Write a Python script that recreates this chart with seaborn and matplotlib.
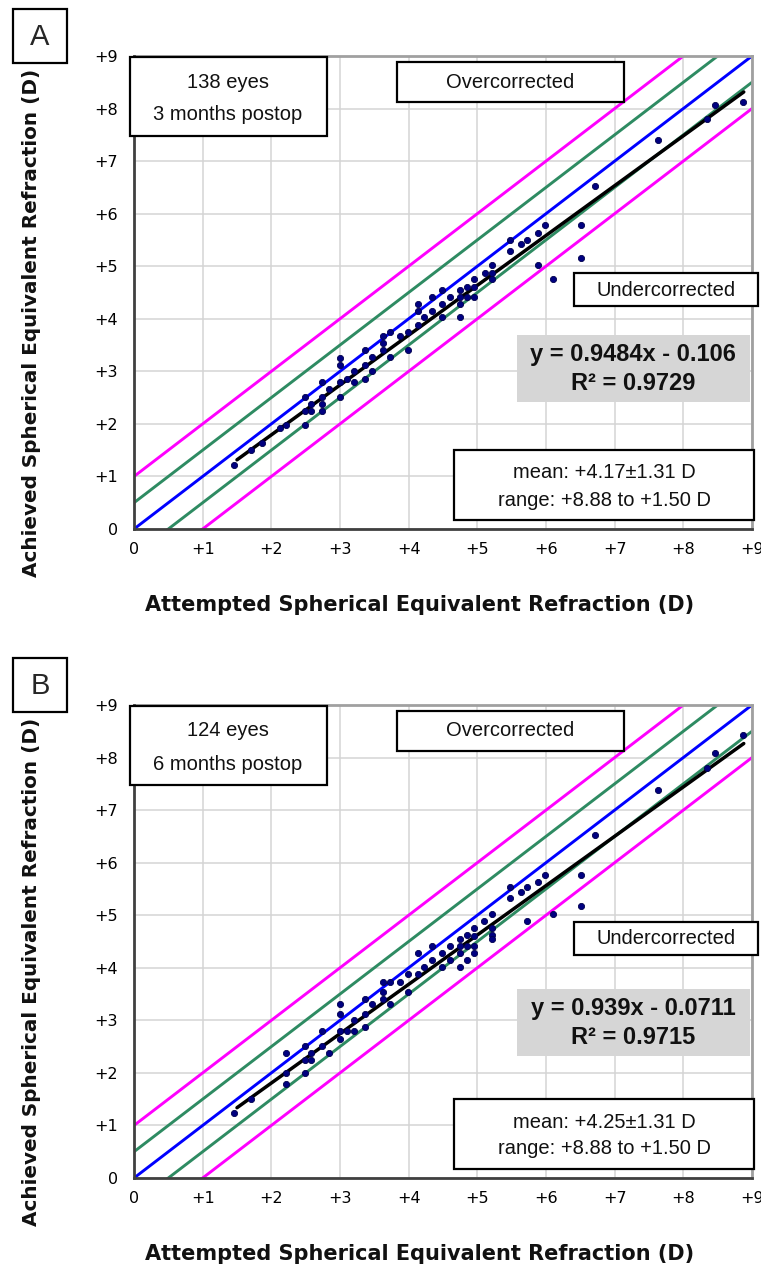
import numpy as np
import pandas as pd
import matplotlib
matplotlib.use("Agg")
import matplotlib.pyplot as plt
from matplotlib.patches import Rectangle
import seaborn as sns

# figure size in pixels (dpi 100)
W, H = 761, 1268

tick_values = list(range(10))
tick_labels = ["0", "+1", "+2", "+3", "+4", "+5", "+6", "+7", "+8", "+9"]

x_title = "Attempted Spherical Equivalent Refraction (D)"
y_title = "Achieved Spherical Equivalent Refraction (D)"

# --- panel A : 3 months ---
attempted_a = [1.45, 1.71, 1.86, 2.12, 2.22, 2.49, 2.49, 2.49, 2.58, 2.58, 2.74, 2.74, 2.74, 2.74,
               2.84, 3.00, 3.00, 3.00, 3.00, 3.10, 3.21, 3.21, 3.36, 3.36, 3.36, 3.46, 3.46, 3.62,
               3.62, 3.62, 3.73, 3.73, 3.88, 3.99, 3.99, 4.13, 4.13, 4.13, 4.23, 4.34, 4.34, 4.49,
               4.49, 4.49, 4.60, 4.75, 4.75, 4.75, 4.75, 4.85, 4.85, 4.95, 4.95, 4.95, 5.11, 5.21,
               5.21, 5.21, 5.47, 5.47, 5.63, 5.73, 5.89, 5.89, 5.99, 6.10, 6.51, 6.51, 6.72, 7.63,
               8.35, 8.46, 8.87]
achieved_a = [1.22, 1.50, 1.63, 1.92, 1.98, 1.98, 2.52, 2.25, 2.38, 2.25, 2.52, 2.38, 2.25, 2.79,
              2.66, 3.26, 3.13, 2.79, 2.52, 2.86, 2.79, 3.00, 2.86, 3.13, 3.40, 3.27, 3.00, 3.40,
              3.54, 3.67, 3.27, 3.74, 3.67, 3.40, 3.74, 3.88, 4.28, 4.15, 4.03, 4.41, 4.14, 4.54,
              4.28, 4.03, 4.41, 4.54, 4.41, 4.28, 4.03, 4.61, 4.41, 4.75, 4.61, 4.41, 4.88, 5.02,
              4.88, 4.75, 5.50, 5.29, 5.43, 5.50, 5.63, 5.02, 5.78, 4.75, 5.78, 5.15, 6.53, 7.40,
              7.81, 8.07, 8.13]
slope_a, intercept_a, r2_a = 0.9484, -0.106, 0.9729
eyes_a = "138 eyes"
time_a = "3 months postop"
mean_a = "mean: +4.17±1.31 D"
range_a = "range: +8.88 to +1.50 D"

# --- panel B : 6 months ---
attempted_b = [1.45, 1.71, 2.22, 2.22, 2.22, 2.49, 2.49, 2.49, 2.58, 2.58, 2.74, 2.74, 2.84, 3.00,
               3.00, 3.00, 3.00, 3.10, 3.21, 3.21, 3.36, 3.36, 3.36, 3.46, 3.62, 3.62, 3.62, 3.73,
               3.73, 3.88, 3.99, 3.99, 4.13, 4.13, 4.23, 4.34, 4.34, 4.49, 4.49, 4.60, 4.60, 4.75,
               4.75, 4.75, 4.75, 4.85, 4.85, 4.85, 4.95, 4.95, 4.95, 4.95, 5.10, 5.21, 5.21, 5.21,
               5.21, 5.47, 5.47, 5.63, 5.73, 5.73, 5.89, 5.99, 6.10, 6.51, 6.51, 6.72, 7.63, 8.35,
               8.46, 8.87]
achieved_b = [1.24, 1.51, 2.37, 1.99, 1.78, 2.52, 2.24, 1.99, 2.37, 2.24, 2.52, 2.79, 2.37, 3.31,
              3.13, 2.79, 2.65, 2.79, 2.79, 3.00, 2.87, 3.13, 3.40, 3.31, 3.40, 3.54, 3.72, 3.72,
              3.31, 3.72, 3.54, 3.88, 4.28, 3.88, 4.01, 4.42, 4.15, 4.28, 4.01, 4.42, 4.15, 4.55,
              4.42, 4.28, 4.01, 4.62, 4.42, 4.15, 4.76, 4.60, 4.42, 4.28, 4.89, 5.03, 4.76, 4.62,
              4.55, 5.53, 5.32, 5.45, 5.53, 4.89, 5.64, 5.77, 5.03, 5.77, 5.17, 6.52, 7.39, 7.81,
              8.08, 8.42]
slope_b, intercept_b, r2_b = 0.939, -0.0711, 0.9715
eyes_b = "124 eyes"
time_b = "6 months postop"
mean_b = "mean: +4.25±1.31 D"
range_b = "range: +8.88 to +1.50 D"

fit_range = [1.50, 8.88]
# reference bands around the identity line (D)
band_offsets = [1.0, 0.5, 0.0, -0.5, -1.0]
band_colors = ["#ff00ff", "#2e8b62", "#0000ff", "#2e8b62", "#ff00ff"]


def px_box(fig, x0, y0, x1, y1, face="white", edge="black", lw=1.6):
    """Rectangle in figure pixel coordinates (y measured from top)."""
    fig.add_artist(Rectangle((x0 / W, 1 - y1 / H), (x1 - x0) / W, (y1 - y0) / H,
                             transform=fig.transFigure, facecolor=face,
                             edgecolor=edge, linewidth=lw, zorder=5))


def px_text(fig, x, y, s, **kw):
    fig.text(x / W, 1 - y / H, s, ha="center", va="center", zorder=6, **kw)


def draw_panel(fig, dy, letter, attempted, achieved, slope, intercept, r2,
               eyes, months, mean_txt, range_txt):
    # axes from x=134..752 px, y=56..529 px (+dy)
    ax = fig.add_axes([134 / W, 1 - (529 + dy) / H, 618 / W, 473 / H])

    # reference lines
    xs = np.array([-1.0, 10.0])
    for off, col in zip(band_offsets, band_colors):
        sns.lineplot(x=xs, y=xs + off, ax=ax, color=col, lw=2.1, zorder=2)

    # regression line
    fx = np.array(fit_range)
    sns.lineplot(x=fx, y=slope * fx + intercept, ax=ax, color="black", lw=2.5, zorder=3)

    df = pd.DataFrame({"attempted": attempted, "achieved": achieved})
    sns.scatterplot(data=df, x="attempted", y="achieved", ax=ax, color="#000080",
                    s=20, edgecolor="#00004d", linewidth=0.6, zorder=4)

    ax.set_xlim(0, 9)
    ax.set_ylim(0, 9)
    ax.set_xticks(tick_values)
    ax.set_yticks(tick_values)
    ax.set_xticklabels(tick_labels)
    ax.set_yticklabels(tick_labels)
    ax.set_xlabel("")
    ax.set_ylabel("")
    ax.grid(True, color="#d4d4d4", lw=1.1)
    ax.set_axisbelow(True)
    ax.tick_params(axis="both", direction="out", length=3.5, width=1.3,
                   color="#404040", labelsize=11.5, labelcolor="black")
    ax.tick_params(axis="x", pad=6)
    ax.tick_params(axis="y", pad=8)
    for side in ["left", "bottom"]:
        ax.spines[side].set_color("#404040")
        ax.spines[side].set_linewidth(2.0)
    for side in ["top", "right"]:
        ax.spines[side].set_color("#a0a0a0")
        ax.spines[side].set_linewidth(2.0)
    ax.spines["left"].set_zorder(5)

    # axis titles
    px_text(fig, 420, 605 + dy, x_title, fontsize=15, fontweight="bold",
            family="DejaVu Sans", color="#111111")
    px_text(fig, 32, 323 + dy, y_title, fontsize=14.4, fontweight="bold",
            family="DejaVu Sans", color="#111111", rotation=90)

    box_font = dict(fontsize=14.5, family="Liberation Sans", color="#111111")

    # panel letter
    px_box(fig, 13, 9 + dy, 67, 63 + dy, lw=1.6)
    px_text(fig, 40, 37 + dy, letter, fontsize=21, family="Liberation Sans")

    # eyes / follow-up
    px_box(fig, 130, 57 + dy, 327, 136 + dy)
    px_text(fig, 228, 82 + dy, eyes, **box_font)
    px_text(fig, 228, 115 + dy, months, **box_font)

    # over / under
    px_box(fig, 397, 62 + dy, 624, 102 + dy)
    px_text(fig, 510, 82 + dy, "Overcorrected", **box_font)
    px_box(fig, 574, 273 + dy, 758, 306 + dy)
    px_text(fig, 666, 290 + dy, "Undercorrected", **box_font)

    # trendline equation
    eq_dy = dy + (5 if dy else 0)
    px_box(fig, 517, 335 + eq_dy, 750, 402 + eq_dy, face="#d6d6d6", edge="none", lw=0)
    sign = "-" if intercept < 0 else "+"
    px_text(fig, 633, 355 + eq_dy, f"y = {slope}x {sign} {abs(intercept)}",
            fontsize=17, fontweight="bold", family="Liberation Sans", color="#111111")
    px_text(fig, 633, 383 + eq_dy, f"R² = {r2}",
            fontsize=17, fontweight="bold", family="Liberation Sans", color="#111111")

    # summary statistics
    px_box(fig, 454, 450 + dy, 754, 520 + dy)
    px_text(fig, 604, 473 + dy, mean_txt, **box_font)
    px_text(fig, 604, 500 + dy, range_txt, **box_font)
    return ax


def main():
    sns.set_style("white")
    plt.rcParams["font.family"] = ["DejaVu Sans"]
    fig = plt.figure(figsize=(W / 100, H / 100), dpi=100)
    draw_panel(fig, 0, "A", attempted_a, achieved_a, slope_a, intercept_a, r2_a,
               eyes_a, time_a, mean_a, range_a)
    draw_panel(fig, 649, "B", attempted_b, achieved_b, slope_b, intercept_b, r2_b,
               eyes_b, time_b, mean_b, range_b)
    fig.savefig("out.png", dpi=100)


if __name__ == "__main__":
    main()
